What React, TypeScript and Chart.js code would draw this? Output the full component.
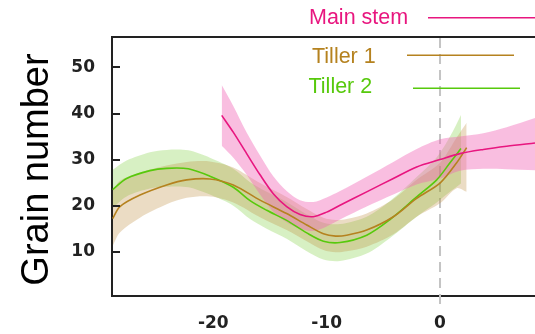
import React, { useEffect, useRef } from 'react';
import { Chart, registerables } from 'chart.js';

Chart.register(...registerables);

// ---- data ----
const xTicks = [-20, -10, 0];
const yTicks = [10, 20, 30, 40, 50];
const seriesNames = ['Main stem', 'Tiller 1', 'Tiller 2'];

const mainX = [-19.26, -18.23, -17.06, -15.88, -14.71, -13.53, -12.35, -11.18, -10.0, -8.82, -6.47, -4.12, -2.06, 0, 1.76, 3.82, 5.88, 8.38];
const mainMid = [39.6, 35.9, 31.3, 26.7, 22.6, 19.8, 18.1, 17.6, 18.6, 20.1, 23.0, 25.9, 28.4, 30.0, 31.3, 32.2, 32.9, 33.6];
const mainUpper = [46.2, 41.6, 35.9, 30.9, 26.4, 23.2, 21.2, 20.8, 21.8, 23.2, 26.3, 29.5, 32.3, 34.4, 35.0, 35.7, 37.0, 39.0];
const mainLower = [33.0, 30.4, 26.7, 22.4, 18.7, 16.4, 15.0, 14.5, 15.5, 17.0, 19.8, 22.4, 24.6, 25.9, 27.6, 28.0, 27.9, 27.7];

const t1X = [-28.88, -28.24, -26.47, -24.12, -22.35, -20.3, -18.24, -15.88, -13.53, -11.76, -10.29, -9.2, -8.24, -6.47, -4.12, -2.06, 0, 1.47, 2.35];
const t1Mid = [17.2, 19.8, 22.3, 24.5, 25.6, 25.8, 24.5, 21.2, 18.3, 15.8, 13.9, 13.4, 13.6, 14.7, 17.6, 21.6, 24.9, 29.3, 32.6];
const t1Upper = [23.2, 25.4, 27.2, 28.7, 29.5, 29.6, 28.3, 24.9, 21.9, 19.3, 17.4, 16.9, 17.1, 18.3, 21.4, 25.6, 29.3, 34.8, 38.0];
const t1Lower = [11.3, 14.2, 17.4, 20.3, 21.7, 22.0, 20.7, 17.5, 14.7, 12.3, 10.4, 9.9, 10.1, 11.1, 13.8, 17.6, 20.5, 23.8, 23.0];

const t2X = [-28.88, -27.65, -25.59, -24.12, -22.21, -20.3, -18.24, -16.76, -15.29, -13.53, -11.76, -10.29, -8.82, -6.47, -4.41, -2.06, -0.29, 0.88, 1.85];
const t2Mid = [23.5, 25.9, 27.6, 28.1, 28.0, 26.4, 24.0, 21.1, 19.0, 16.8, 14.1, 12.3, 12.0, 13.6, 17.0, 21.9, 25.6, 29.3, 32.4];
const t2Upper = [27.8, 29.8, 31.6, 32.1, 32.0, 30.4, 28.0, 25.1, 23.0, 20.8, 18.1, 16.3, 16.0, 17.6, 21.0, 26.2, 30.5, 35.0, 39.7];
const t2Lower = [19.5, 22.0, 23.7, 24.1, 24.0, 22.4, 20.0, 17.1, 15.0, 12.8, 10.1, 8.3, 8.0, 9.6, 13.0, 17.6, 20.7, 23.0, 24.8];

// ---- styles ----
const lineColors = ['#e8167f', '#b5821f', '#57c90c'];
const bandColors = ['rgba(240,100,180,0.42)', 'rgba(190,140,60,0.30)', 'rgba(110,200,40,0.28)'];
const legendPos = [
  { tx: 309, ty: 23.5, x1: 428, x2: 535, ly: 17.7 },
  { tx: 312, ty: 62.5, x1: 407, x2: 514, ly: 55.3 },
  { tx: 308.5, ty: 93.3, x1: 413, x2: 520, ly: 88.3 },
];

const pts = (xs: number[], ys: number[]) => xs.map((x, i) => ({ x, y: ys[i] }));

const decor = {
  id: 'decor',
  beforeDatasetsDraw(chart: any) {
    const { ctx, chartArea, scales } = chart;
    const px = scales.x.getPixelForValue(0);
    ctx.save();
    ctx.strokeStyle = '#c4c4c4';
    ctx.lineWidth = 2;
    ctx.setLineDash([10, 6]);
    ctx.beginPath();
    ctx.moveTo(px, chartArea.top + 1);
    ctx.lineTo(px, chartArea.bottom + 8);
    ctx.stroke();
    ctx.restore();
  },
  afterDraw(chart: any) {
    const { ctx, chartArea, scales } = chart;
    ctx.save();
    ctx.strokeStyle = '#222';
    ctx.lineWidth = 2;
    ctx.beginPath();
    ctx.moveTo(chartArea.left - 1, chartArea.top);
    ctx.lineTo(chartArea.right, chartArea.top);
    ctx.stroke();
    ctx.beginPath();
    yTicks.forEach((v) => {
      const py = Math.round(scales.y.getPixelForValue(v));
      ctx.moveTo(chartArea.left, py);
      ctx.lineTo(chartArea.left + 8, py);
    });
    ctx.stroke();
    ctx.fillStyle = '#000';
    ctx.font = '38px "Liberation Sans", Arial, sans-serif';
    ctx.textAlign = 'center';
    ctx.textBaseline = 'alphabetic';
    ctx.translate(48, (chartArea.top + chartArea.bottom) / 2 + 3);
    ctx.rotate(-Math.PI / 2);
    ctx.fillText('Grain number', 0, 0);
    ctx.restore();
    ctx.save();
    ctx.font = '21.5px "Liberation Sans", Arial, sans-serif';
    ctx.textAlign = 'left';
    ctx.textBaseline = 'alphabetic';
    seriesNames.forEach((name, i) => {
      const p = legendPos[i];
      ctx.fillStyle = lineColors[i];
      ctx.fillText(name, p.tx, p.ty);
      ctx.strokeStyle = lineColors[i];
      ctx.lineWidth = 1.6;
      ctx.beginPath();
      ctx.moveTo(p.x1, p.ly);
      ctx.lineTo(p.x2, p.ly);
      ctx.stroke();
    });
    ctx.restore();
  },
};

export default function App() {
  const ref = useRef<HTMLCanvasElement>(null);
  useEffect(() => {
    if (!ref.current) return;
    const sets = [
      { xs: mainX, mid: mainMid, up: mainUpper, lo: mainLower },
      { xs: t1X, mid: t1Mid, up: t1Upper, lo: t1Lower },
      { xs: t2X, mid: t2Mid, up: t2Upper, lo: t2Lower },
    ];
    const common = { pointRadius: 0, tension: 0.3 };
    const datasets: any[] = [];
    sets.forEach((s, i) => {
      datasets.push({
        ...common,
        label: seriesNames[i],
        data: pts(s.xs, s.mid),
        borderColor: lineColors[i],
        borderWidth: 1.6,
        fill: false,
        order: 0,
      });
    });
    sets.forEach((s, i) => {
      datasets.push({
        ...common,
        label: seriesNames[i] + ' upper',
        data: pts(s.xs, s.up),
        borderWidth: 0,
        borderColor: 'transparent',
        fill: false,
        order: 1,
      });
      datasets.push({
        ...common,
        label: seriesNames[i] + ' lower',
        data: pts(s.xs, s.lo),
        borderWidth: 0,
        borderColor: 'transparent',
        backgroundColor: bandColors[i],
        fill: '-1',
        order: 1,
      });
    });
    const chart = new Chart(ref.current, {
      type: 'line',
      data: { datasets },
      options: {
        animation: false,
        responsive: false,
        layout: { padding: { top: 37, left: 0, right: 0, bottom: 0 } },
        plugins: { legend: { display: false }, tooltip: { enabled: false } },
        scales: {
          x: {
            type: 'linear',
            min: -28.94,
            max: 8.38,
            grid: { display: false, drawTicks: false },
            border: { display: true, color: '#222', width: 2 },
            ticks: {
              padding: 17,
              color: '#222',
              font: { family: '"DejaVu Sans"', weight: 'bold', size: 17 },
            },
            afterBuildTicks: (scale: any) => {
              scale.ticks = xTicks.map((v) => ({ value: v }));
            },
            afterFit: (scale: any) => {
              scale.height = 38;
            },
          },
          y: {
            type: 'linear',
            min: 0.4,
            max: 56.6,
            grid: { display: false, drawTicks: false },
            border: { display: true, color: '#222', width: 2 },
            ticks: {
              padding: 17,
              color: '#222',
              font: { family: '"DejaVu Sans"', weight: 'bold', size: 17 },
            },
            afterBuildTicks: (scale: any) => {
              scale.ticks = yTicks.map((v) => ({ value: v }));
            },
            afterFit: (scale: any) => {
              scale.width = 112;
            },
          },
        },
      },
      plugins: [decor],
    });
    return () => chart.destroy();
  }, []);
  return (
    <div style={{ position: 'fixed', left: 0, top: 0, width: 535, height: 334, background: '#fff' }}>
      <canvas ref={ref} width={535} height={334} style={{ width: 535, height: 334, display: 'block' }} />
    </div>
  );
}
